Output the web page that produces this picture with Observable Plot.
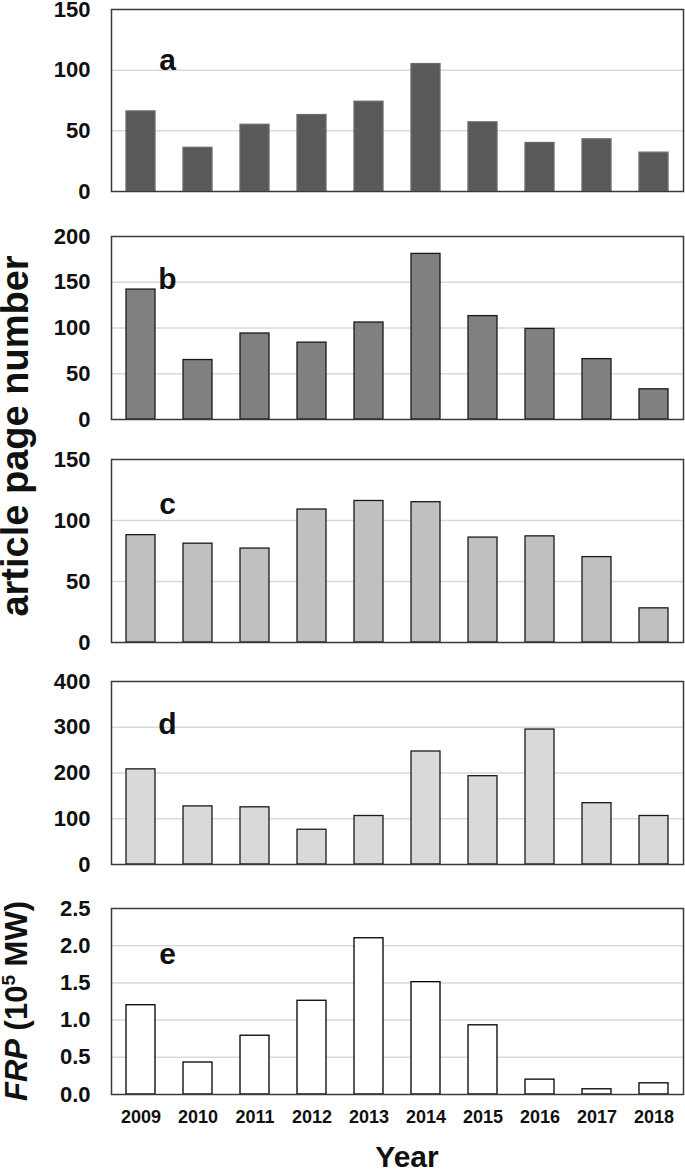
<!DOCTYPE html>
<html>
<head>
<meta charset="utf-8">
<script src="https://cdn.jsdelivr.net/npm/d3@7"></script>
<script src="https://cdn.jsdelivr.net/npm/@observablehq/plot@0.6"></script>
<style>
  html, body { margin: 0; padding: 0; background: #fff; }
  #wrap { position: relative; width: 685px; height: 1170px; font-family: "Liberation Sans", Arial, sans-serif; }
  #wrap > svg, #wrap > div { position: absolute; left: 0; }
</style>
</head>
<body>
<div id="wrap"></div>
<script>
const years  = ["2009","2010","2011","2012","2013","2014","2015","2016","2017","2018"];
const pagesA = [66, 36, 55, 63, 74, 105, 57, 40, 43, 32];
const pagesB = [142, 65, 94, 84, 106, 181, 113, 99, 66, 33];
const pagesC = [88, 81, 77, 109, 116, 115, 86, 87, 70, 28];
const pagesD = [208, 127, 125, 76, 106, 247, 193, 295, 134, 106];
const frp    = [1.20, 0.43, 0.79, 1.26, 2.10, 1.51, 0.93, 0.20, 0.07, 0.15];

const ticksA = [0, 50, 100, 150];
const ticksB = [0, 50, 100, 150, 200];
const ticksC = [0, 50, 100, 150];
const ticksD = [0, 100, 200, 300, 400];
const ticksE = [0, 0.5, 1.0, 1.5, 2.0, 2.5];

const letters = ["a", "b", "c", "d", "e"];

const panels = [
  {values: pagesA, ticks: ticksA, fill: "#595959", stroke: "#6b6b6b", top: 0,   mt: 9,  fh: 182, mb: 10, letterDy: 60, fmt: d => d},
  {values: pagesB, ticks: ticksB, fill: "#808080", stroke: "#1a1a1a", top: 226, mt: 10, fh: 183, mb: 10, letterDy: 52, fmt: d => d},
  {values: pagesC, ticks: ticksC, fill: "#c0c0c0", stroke: "#1a1a1a", top: 449, mt: 10, fh: 183, mb: 10, letterDy: 54, fmt: d => d},
  {values: pagesD, ticks: ticksD, fill: "#d9d9d9", stroke: "#1a1a1a", top: 671, mt: 10, fh: 183, mb: 10, letterDy: 52, fmt: d => d},
  {values: frp,    ticks: ticksE, fill: "#ffffff", stroke: "#000000", top: 898, mt: 10, fh: 186, mb: 42, letterDy: 55, fmt: d3.format(".1f")}
];

const wrap = document.getElementById("wrap");

panels.forEach((p, i) => {
  const data = years.map((y, j) => ({year: y, value: p.values[j]}));
  const ymax = p.ticks[p.ticks.length - 1];
  const isLast = i === panels.length - 1;
  const marks = [
    Plot.ruleY(p.ticks.filter(t => t > 0 && t < ymax), {stroke: "#d9d9d9", strokeWidth: 1.5}),
    Plot.barY(data, {x: "year", y: "value", fill: p.fill, stroke: p.stroke, strokeWidth: 1.3}),
    Plot.frame({stroke: "#3a3a3a", strokeWidth: 1.5}),
    Plot.axisY({ticks: p.ticks, tickSize: 0, tickPadding: 21, tickFormat: p.fmt, fontSize: 22, fontWeight: "bold", fill: "#111", label: null}),
    Plot.text([letters[i]], {text: d => d, frameAnchor: "top-left", dx: 56, dy: p.letterDy, fontSize: 30, fontWeight: "bold", fill: "#111", textAnchor: "middle", lineAnchor: "bottom"})
  ];
  if (isLast) {
    marks.push(Plot.axisX({tickSize: 0, tickPadding: 16, fontSize: 18, fontWeight: "bold", fill: "#111", label: null}));
  }
  const chart = Plot.plot({
    width: 685,
    height: p.mt + p.fh + p.mb,
    marginLeft: 111,
    marginRight: 2,
    marginTop: p.mt,
    marginBottom: p.mb,
    style: {fontFamily: "'Liberation Sans', Arial, sans-serif", background: "transparent", overflow: "visible"},
    x: {type: "band", domain: years, paddingInner: 0.5, paddingOuter: 0.25, axis: null},
    y: {domain: [0, ymax], axis: null},
    marks
  });
  chart.style.position = "absolute";
  chart.style.top = p.top + "px";
  chart.style.left = "0px";
  wrap.appendChild(chart);
});

// Overlay titles
const ns = "http://www.w3.org/2000/svg";
const ov = document.createElementNS(ns, "svg");
ov.setAttribute("width", 685);
ov.setAttribute("height", 1170);
ov.style.position = "absolute";
ov.style.top = "0px";
ov.style.left = "0px";
ov.style.pointerEvents = "none";
ov.style.fontFamily = "'Liberation Sans', Arial, sans-serif";
ov.innerHTML = `
  <text transform="translate(28,436) rotate(-90)" text-anchor="middle" font-size="38" font-weight="bold" fill="#111">article page number</text>
  <text transform="translate(27,1001) rotate(-90)" text-anchor="middle" font-size="31" font-weight="bold" fill="#111"><tspan font-style="italic">FRP</tspan> (10<tspan font-size="19" dy="-12">5</tspan><tspan dy="12"> MW)</tspan></text>
  <text x="407" y="1167" text-anchor="middle" font-size="30" font-weight="bold" fill="#111">Year</text>
`;
wrap.appendChild(ov);
</script>
</body>
</html>
